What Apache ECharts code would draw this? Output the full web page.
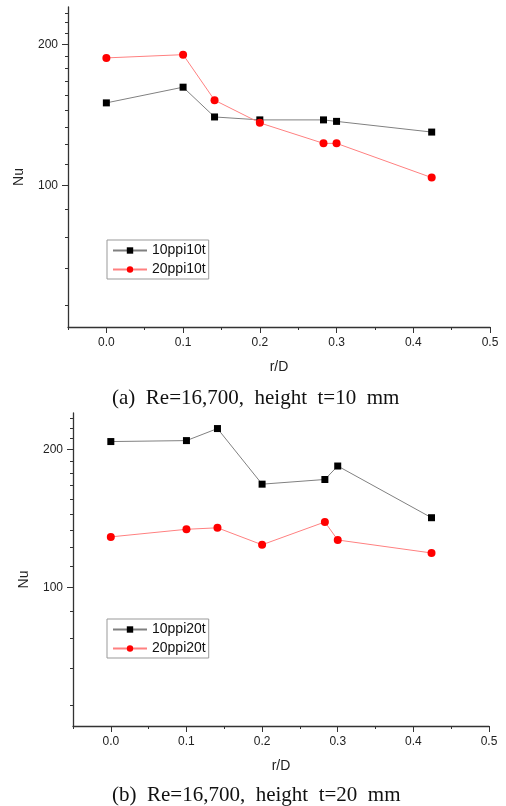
<!DOCTYPE html>
<html>
<head>
<meta charset="utf-8">
<script src="https://cdn.jsdelivr.net/npm/echarts@6/dist/echarts.min.js"></script>
<style>
  html, body { margin: 0; padding: 0; background: #fff; }
  #chart { width: 506px; height: 806px; }
</style>
</head>
<body>
<div id="chart"></div>
<script>
// r/D positions (same for both panels)
var rD = [0, 0.1, 0.141, 0.2, 0.283, 0.3, 0.424]

// (a) height t=10 mm
var nu10ppi10t = [150, 162, 140, 138, 138, 137, 130]
var nu20ppi10t = [187, 190, 152, 136, 123, 123, 104]

// (b) height t=20 mm
var nu10ppi20t = [208, 209, 222, 168, 172, 184, 142]
var nu20ppi20t = [129, 134, 135, 124, 139, 127, 119]

// tick labels / tick values
var xMajorTicks = [0, 0.1, 0.2, 0.3, 0.4, 0.5]
var xMinorTicks = [-0.05, 0.05, 0.15, 0.25, 0.35, 0.45]
var yMajorTicks = [100, 200]
var yMinorTicks = [55.6, 66.7, 77.8, 88.9, 111.1, 122.2, 133.3, 144.4, 155.6,
  166.7, 177.8, 188.9, 211.1, 222.2, 233.3]

var captions = ['(a)  Re=16,700,  height  t=10  mm', '(b)  Re=16,700,  height  t=20  mm']

function pairs(xs, ys) {
  return xs.map(function (x, i) { return [x, ys[i]] })
}

var axisColor = '#333'
var labelFont = 'Arial, "Liberation Sans", sans-serif'

function xAxes(gridIndex) {
  return [{
    gridIndex: gridIndex,
    type: 'value',
    position: 'bottom',
    min: -0.05,
    max: 0.5,
    name: 'r/D',
    nameLocation: 'middle',
    nameGap: 33,
    nameTextStyle: { color: '#222', fontSize: 14, fontFamily: labelFont },
    axisLine: { onZero: false, lineStyle: { color: axisColor, width: 1.3 } },
    axisTick: { customValues: xMajorTicks, length: 6, lineStyle: { color: axisColor } },
    axisLabel: {
      customValues: xMajorTicks,
      margin: 10,
      color: '#222',
      fontSize: 12,
      fontFamily: labelFont,
      formatter: function (v) { return v.toFixed(1) }
    },
    splitLine: { show: false }
  }, {
    gridIndex: gridIndex,
    type: 'value',
    position: 'bottom',
    min: -0.05,
    max: 0.5,
    axisLine: { show: false, onZero: false },
    axisTick: { customValues: xMinorTicks, length: 3, lineStyle: { color: axisColor } },
    axisLabel: { show: false },
    splitLine: { show: false }
  }]
}

function yAxes(gridIndex) {
  return [{
    gridIndex: gridIndex,
    type: 'log',
    logBase: 2,
    position: 'left',
    min: 50,
    max: 240,
    name: 'Nu',
    nameLocation: 'middle',
    nameGap: 42,
    nameTextStyle: { color: '#222', fontSize: 14, fontFamily: labelFont, padding: [0, 20, 0, 0] },
    axisLine: { show: true, onZero: false, lineStyle: { color: axisColor, width: 1.3 } },
    axisTick: { show: true, customValues: yMajorTicks, length: 6, lineStyle: { color: axisColor } },
    axisLabel: {
      customValues: yMajorTicks,
      margin: 10,
      color: '#222',
      fontSize: 12,
      fontFamily: labelFont,
      formatter: function (v) { return String(Math.round(v)) }
    },
    splitLine: { show: false }
  }, {
    gridIndex: gridIndex,
    type: 'log',
    logBase: 2,
    position: 'left',
    min: 50,
    max: 240,
    axisLine: { show: false, onZero: false },
    axisTick: { show: true, customValues: yMinorTicks, length: 3, lineStyle: { color: axisColor } },
    axisLabel: { show: false },
    splitLine: { show: false }
  }]
}

function blackSeries(name, data, idx) {
  return {
    name: name,
    type: 'line',
    xAxisIndex: idx * 2,
    yAxisIndex: idx * 2,
    data: pairs(rD, data),
    symbol: 'rect',
    symbolSize: 7,
    itemStyle: { color: '#000' },
    lineStyle: { color: '#808080', width: 1 },
    animation: false
  }
}

function redSeries(name, data, idx) {
  return {
    name: name,
    type: 'line',
    xAxisIndex: idx * 2,
    yAxisIndex: idx * 2,
    data: pairs(rD, data),
    symbol: 'circle',
    symbolSize: 8,
    itemStyle: { color: '#ff0000' },
    lineStyle: { color: '#ff8080', width: 1 },
    animation: false
  }
}

function legendBox(names, top) {
  return {
    data: names,
    orient: 'vertical',
    left: 107,
    top: top,
    padding: [3, 3, 2, 5],
    itemGap: 4,
    itemWidth: 34,
    itemHeight: 8,
    borderColor: '#999',
    borderWidth: 1,
    backgroundColor: '#fff',
    textStyle: { color: '#111', fontSize: 14, fontFamily: labelFont, lineHeight: 15 }
  }
}

var chart = echarts.init(document.getElementById('chart'), null, { renderer: 'canvas' })

chart.setOption({
  animation: false,
  grid: [
    { left: 68, right: 16, top: 7, height: 320 },
    { left: 73, right: 17, top: 413, height: 313 }
  ],
  xAxis: xAxes(0).concat(xAxes(1)),
  yAxis: yAxes(0).concat(yAxes(1)),
  legend: [
    legendBox(['10ppi10t', '20ppi10t'], 240),
    legendBox(['10ppi20t', '20ppi20t'], 619)
  ],
  graphic: [{
    type: 'text',
    left: 112,
    top: 388,
    style: { text: captions[0], fill: '#111', font: '21px "Liberation Serif", "Times New Roman", serif' }
  }, {
    type: 'text',
    left: 112,
    top: 785,
    style: { text: captions[1], fill: '#111', font: '21px "Liberation Serif", "Times New Roman", serif' }
  }],
  series: [
    blackSeries('10ppi10t', nu10ppi10t, 0),
    redSeries('20ppi10t', nu20ppi10t, 0),
    blackSeries('10ppi20t', nu10ppi20t, 1),
    redSeries('20ppi20t', nu20ppi20t, 1)
  ]
})
</script>
</body>
</html>
